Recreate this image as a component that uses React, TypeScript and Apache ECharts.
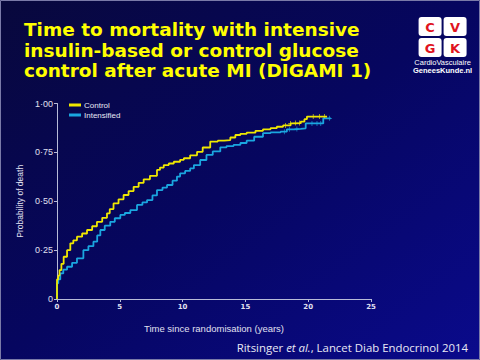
import React, { useEffect, useRef } from "react";
import * as echarts from "echarts";

const titleLines = [
  "Time to mortality with intensive",
  "insulin-based or control glucose",
  "control after acute MI (DIGAMI 1)",
];
const yTicks = [0, 0.25, 0.5, 0.75, 1.0];
const yTickLabels = ["0", "0·25", "0·50", "0·75", "1·00"];
const xTicks = [0, 5, 10, 15, 20, 25];

const controlT = [0, 0, 0.1, 0.2, 0.35, 0.53, 0.8, 1.06, 1.3, 1.59, 2.0, 2.39, 2.8, 3.18, 3.6, 3.98, 4.2, 4.5, 4.9, 5.3, 5.7, 6.1, 6.5, 6.9, 7.4, 7.96, 8.2, 8.5, 8.9, 9.3, 9.8, 10.1, 10.6, 11.15, 11.6, 12.2, 12.8, 13.3, 13.8, 14.2, 14.6, 15.1, 15.8, 16.4, 17.0, 17.5, 18.0, 18.6, 19.0, 19.4, 19.7, 19.9, 20.5, 21.0, 21.5];
const controlP = [0, 0.1, 0.12, 0.148, 0.18, 0.216, 0.25, 0.285, 0.3, 0.319, 0.335, 0.353, 0.372, 0.395, 0.415, 0.438, 0.46, 0.489, 0.51, 0.532, 0.552, 0.574, 0.594, 0.612, 0.63, 0.66, 0.672, 0.685, 0.693, 0.702, 0.712, 0.72, 0.735, 0.753, 0.775, 0.805, 0.81, 0.813, 0.826, 0.839, 0.845, 0.851, 0.86, 0.868, 0.874, 0.881, 0.888, 0.898, 0.9, 0.907, 0.92, 0.933, 0.933, 0.933, 0.933];

const intensT = [0, 0, 0.1, 0.26, 0.5, 0.8, 1.2, 1.59, 2.1, 2.5, 2.9, 3.2, 3.45, 3.8, 4.24, 4.6, 5.04, 5.4, 5.84, 6.37, 6.8, 7.17, 7.6, 7.96, 8.4, 8.76, 9.2, 9.55, 9.8, 10.2, 10.6, 10.9, 11.4, 11.9, 12.4, 13.0, 13.5, 14.06, 14.6, 15.1, 15.7, 16.4, 17.0, 17.8, 18.3, 18.9, 19.4, 19.8, 20.4, 21.1, 21.2, 21.8];
const intensP = [0, 0.08, 0.1, 0.131, 0.15, 0.165, 0.185, 0.208, 0.25, 0.27, 0.293, 0.325, 0.353, 0.375, 0.395, 0.413, 0.43, 0.44, 0.455, 0.481, 0.494, 0.506, 0.53, 0.557, 0.57, 0.583, 0.605, 0.626, 0.643, 0.655, 0.668, 0.685, 0.711, 0.737, 0.755, 0.776, 0.782, 0.788, 0.798, 0.81, 0.83, 0.848, 0.852, 0.856, 0.868, 0.87, 0.873, 0.898, 0.898, 0.898, 0.924, 0.924];

const controlCensorT = [18.2, 18.6, 19.0, 19.3, 20.4, 20.9, 21.3];
const intensCensorT = [18.1, 18.5, 19.1, 20.3, 20.7, 21.0, 21.7];

const CONTROL_COLOR = "#f0e800";
const INTENS_COLOR = "#1aa6e0";

function stepValueAt(ts: number[], ps: number[], t: number) {
  let v = 0;
  for (let i = 0; i < ts.length; i++) if (ts[i] <= t) v = ps[i];
  return v;
}

const plusSymbol = "path://M4,0h1.5v4h4v1.5h-4v4h-1.5v-4h-4v-1.5h4z";

export default function App() {
  const ref = useRef<HTMLDivElement>(null);
  useEffect(() => {
    const chart = echarts.init(ref.current!, null, { renderer: "svg" });
    const axisColor = "#b8bcd8";
    chart.setOption({
      animation: false,
      backgroundColor: new echarts.graphic.LinearGradient(0, 0, 1, 1, [
        { offset: 0, color: "#08083c" },
        { offset: 0.5, color: "#060660" },
        { offset: 1, color: "#0a0a8c" },
      ]),
      grid: { left: 57, top: 103.5, width: 314, height: 195.5, containLabel: false },
      xAxis: {
        type: "value",
        min: 0,
        max: 25,
        interval: 5,
        axisLine: { show: true, lineStyle: { color: axisColor, width: 1 } },
        axisTick: { show: true, length: 3, lineStyle: { color: axisColor } },
        axisLabel: { color: "#e0e0f0", fontSize: 7, fontFamily: "DejaVu Sans", fontWeight: "bold", margin: 4 },
        splitLine: { show: false },
        name: "Time since randomisation (years)",
        nameLocation: "middle",
        nameGap: 24,
        nameTextStyle: { color: "#e0e0f0", fontSize: 9.5, fontFamily: "Liberation Sans" },
      },
      yAxis: {
        type: "value",
        min: 0,
        max: 1,
        interval: 0.25,
        axisLine: { show: true, lineStyle: { color: axisColor, width: 1 } },
        axisTick: { show: true, length: 3, lineStyle: { color: axisColor } },
        axisLabel: {
          color: "#e0e0f0",
          fontSize: 9,
          fontFamily: "Liberation Sans",
          margin: 4,
          formatter: (v: number) => {
            const i = yTicks.findIndex((t) => Math.abs(t - v) < 1e-6);
            return i >= 0 ? yTickLabels[i] : "";
          },
        },
        splitLine: { show: false },
        name: "Probability of death",
        nameLocation: "middle",
        nameGap: 31,
        nameRotate: 90,
        nameTextStyle: { color: "#e0e0f0", fontSize: 8.5, fontFamily: "Liberation Sans" },
      },
      legend: {
        show: true,
        left: 64,
        top: 96,
        orient: "vertical",
        itemWidth: 12,
        itemHeight: 3,
        itemGap: 2,
        icon: "rect",
        textStyle: { color: "#e8e8f4", fontSize: 8, fontFamily: "Liberation Sans", padding: [0, 0, 0, -2] },
        data: ["Control", "Intensified"],
      },
      series: [
        {
          name: "Intensified",
          type: "line",
          step: "end",
          showSymbol: false,
          symbol: "none",
          lineStyle: { color: INTENS_COLOR, width: 1.8 },
          itemStyle: { color: INTENS_COLOR },
          data: intensT.map((t, i) => [t, intensP[i]]),
        },
        {
          name: "Control",
          type: "line",
          step: "end",
          showSymbol: false,
          symbol: "none",
          lineStyle: { color: CONTROL_COLOR, width: 1.8 },
          itemStyle: { color: CONTROL_COLOR },
          data: controlT.map((t, i) => [t, controlP[i]]),
        },
        {
          name: "IntensCensor",
          type: "scatter",
          symbol: plusSymbol,
          symbolSize: 5,
          itemStyle: { color: INTENS_COLOR },
          data: intensCensorT.map((t) => [t, stepValueAt(intensT, intensP, t)]),
        },
        {
          name: "ControlCensor",
          type: "scatter",
          symbol: plusSymbol,
          symbolSize: 5,
          itemStyle: { color: CONTROL_COLOR },
          data: controlCensorT.map((t) => [t, stepValueAt(controlT, controlP, t)]),
        },
      ],
      graphic: [
        {
          type: "rect",
          shape: { x: 0.5, y: 0.5, width: 479, height: 359 },
          style: { fill: "none", stroke: "#7a7aa8", lineWidth: 1 },
          silent: true,
        },
        ...titleLines.map((line, i) => ({
          type: "text",
          left: 24,
          top: 20 + i * 20.5,
          style: {
            text: line,
            fill: "#ffff00",
            font: "bold 18.5px 'DejaVu Sans'",
          },
        })),
        {
          type: "group",
          left: 413,
          top: 17,
          children: [
            { type: "rect", shape: { x: 0, y: 0, width: 23, height: 19, r: 3 }, style: { fill: "#ffffff" } },
            { type: "rect", shape: { x: 25, y: 0, width: 23, height: 19, r: 3 }, style: { fill: "#ffffff" } },
            { type: "rect", shape: { x: 0, y: 21, width: 23, height: 19, r: 3 }, style: { fill: "#ffffff" } },
            { type: "rect", shape: { x: 25, y: 21, width: 23, height: 19, r: 3 }, style: { fill: "#ffffff" } },
            { type: "text", x: 11.5, y: 10, style: { text: "C", fill: "#e0141e", font: "bold 13px 'DejaVu Sans'", align: "center", verticalAlign: "middle" } },
            { type: "text", x: 36.5, y: 10, style: { text: "V", fill: "#e0141e", font: "bold 13px 'DejaVu Sans'", align: "center", verticalAlign: "middle" } },
            { type: "text", x: 11.5, y: 31, style: { text: "G", fill: "#e0141e", font: "bold 13px 'DejaVu Sans'", align: "center", verticalAlign: "middle" } },
            { type: "text", x: 36.5, y: 31, style: { text: "K", fill: "#e0141e", font: "bold 13px 'DejaVu Sans'", align: "center", verticalAlign: "middle" } },
            { type: "text", x: 24, y: 45, style: { text: "CardioVasculaire", fill: "#ffffff", font: "7.5px 'Liberation Sans Narrow', 'Liberation Sans'", align: "center", verticalAlign: "middle" } },
            { type: "text", x: 24, y: 53, style: { text: "GeneesKunde.nl", fill: "#ffffff", font: "bold 7.5px 'Liberation Sans Narrow', 'Liberation Sans'", align: "center", verticalAlign: "middle" } },
          ],
        },
        {
          type: "text",
          right: 12,
          top: 342,
          style: {
            rich: {
              n: { fill: "#e8e8f4", font: "11.4px 'Open Sans'" },
              i: { fill: "#e8e8f4", font: "italic 11.4px 'Open Sans'" },
            },
            text: "{n|Ritsinger }{i|et al.}{n|, Lancet Diab Endocrinol 2014}",
          },
        },
      ],
    });
    return () => chart.dispose();
  }, []);
  return (
    <div
      ref={ref}
      style={{ position: "fixed", left: 0, top: 0, width: 480, height: 360 }}
    />
  );
}
